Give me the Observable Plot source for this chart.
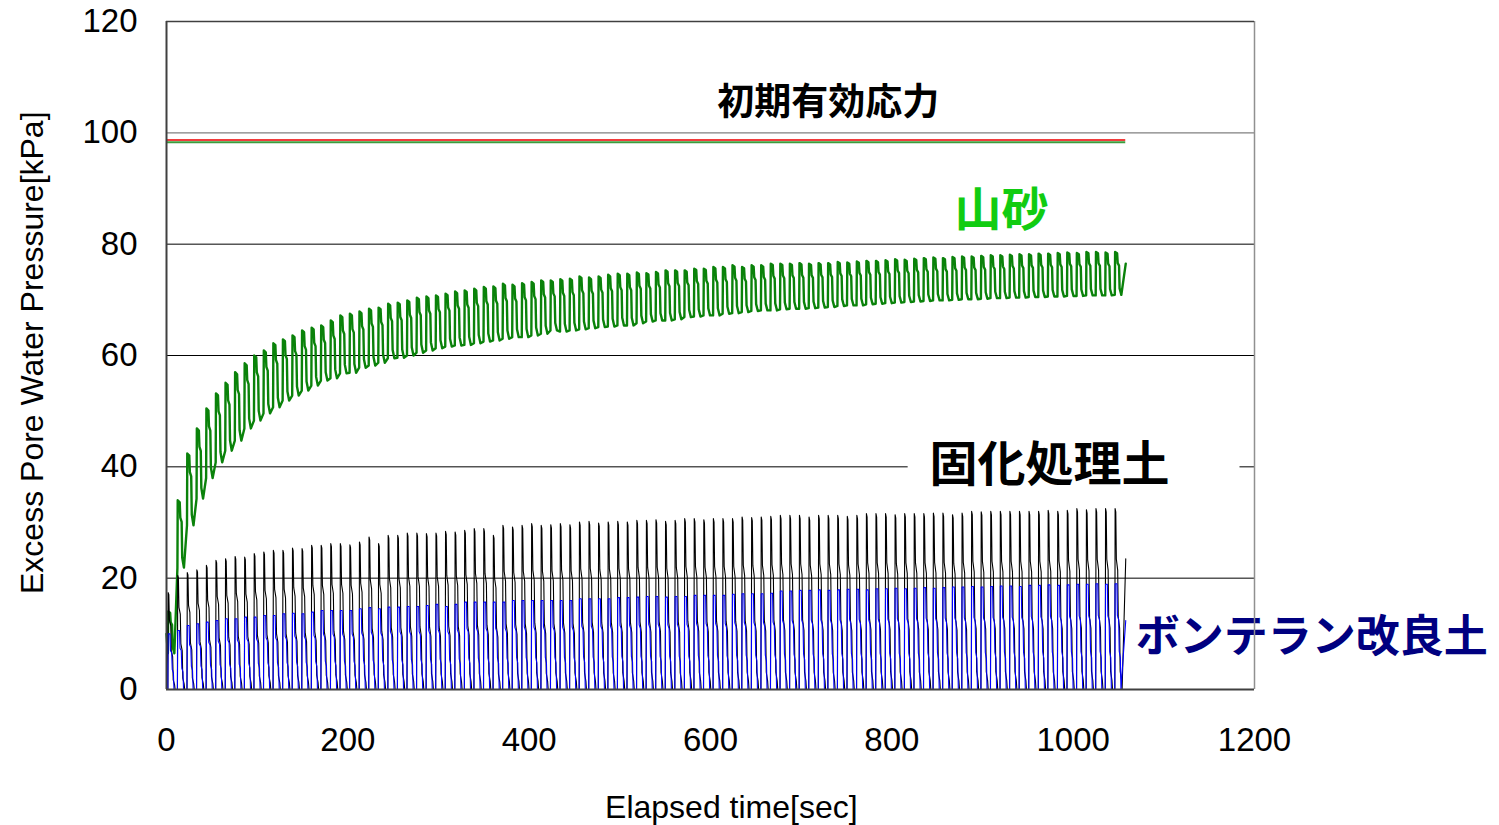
<!DOCTYPE html>
<html>
<head>
<meta charset="utf-8">
<script src="https://cdn.jsdelivr.net/npm/d3@7"></script>
<script src="https://cdn.jsdelivr.net/npm/@observablehq/plot@0.6"></script>
<style>
  html, body { margin: 0; padding: 0; background: #fff; }
</style>
</head>
<body>
<div id="chart"></div>
<script>
// ---- values ----
const xTicks = [0, 200, 400, 600, 800, 1000, 1200];
const yTicks = [0, 20, 40, 60, 80, 100, 120];
const gridValues = [20, 40, 60, 80];

const period = 10.55;      // seconds per loading cycle
const firstCycle = 1.5;    // time of the first rise
const endTime = 1058;      // last sample

// 山砂 (per-cycle peak / trough)
const sandPeak = [14, 34, 42.4, 46.9, 50.5, 53.2, 55.1, 57, 58.6, 60, 60.9, 62.2, 62.9, 63.6, 64.5, 65, 65.4, 66.3, 67.2, 67.5,
  67.9, 68.4, 68.6, 69.3, 69.5, 69.9, 70.4, 70.6, 70.8, 71.1, 71.5, 71.7, 72.0, 72.3, 72.4, 72.9, 72.7, 73.0, 73.2, 73.5,
  73.5, 73.7, 73.8, 74.2, 74.0, 74.2, 74.5, 74.7, 74.7, 74.9, 74.8, 75.0, 75.3, 75.3, 75.3, 75.6, 75.6, 75.9, 75.9, 76.2,
  75.9, 76.2, 76.2, 76.5, 76.5, 76.5, 76.6, 76.5, 76.6, 76.6, 76.8, 76.7, 76.9, 77.0, 77.0, 77.1, 77.3, 77.2, 77.4, 77.5,
  77.6, 77.5, 77.7, 77.8, 77.8, 77.9, 78.0, 78.0, 78.1, 78.2, 78.2, 78.3, 78.3, 78.4, 78.5, 78.4, 78.6, 78.6, 78.5, 78.6];
const sandTrough = [6.5, 21.9, 29.5, 34.3, 38, 40.8, 42.9, 44.7, 46.9, 48.3, 49.6, 50.7, 51.9, 52.8, 53.7, 54.6, 55.5, 55.9, 56.8, 56.9,
  57.8, 58.2, 58.7, 59.5, 59.6, 60, 60.5, 60.9, 61.3, 61.6, 61.8, 61.9, 62.2, 62.5, 62.7, 63.0, 63.3, 63.3, 63.6, 63.9,
  64.5, 64.3, 64.5, 64.7, 64.9, 65.1, 65.2, 65.4, 65.4, 65.8, 66.1, 66.3, 66.3, 66.5, 66.9, 67.0, 67.2, 67.2, 67.5, 67.6,
  67.8, 68.0, 68.1, 68.1, 68.3, 68.4, 68.4, 68.5, 68.6, 68.7, 68.9, 69.0, 69.0, 69.2, 69.3, 69.4, 69.5, 69.6, 69.7, 69.8,
  69.9, 69.9, 70.0, 70.1, 70.1, 70.2, 70.3, 70.3, 70.4, 70.4, 70.5, 70.5, 70.6, 70.6, 70.7, 70.7, 70.8, 70.8, 70.8, 70.9];
const sandStart = 10, sandEnd = 76.5;

// 固化処理土 (per-cycle peak; falls back to 0 each cycle)
const cementPeak = [17.4, 20.5, 21, 21.5, 22.3, 23.2, 23.5, 23.9, 23.8, 24.4, 24.7, 25, 25, 25.4, 25.3, 25.9, 25.9, 26.2, 26.2, 26.0,
  26.5, 27.4, 26.2, 27.7, 27.7, 28.1, 28.1, 28.0, 28.1, 28.4, 28.3, 28.6, 28.9, 28.9, 27.7, 29.5, 29.2, 29.5, 29.8, 29.5,
  29.6, 29.8, 29.6, 30.1, 30.2, 29.9, 30.1, 30.2, 30.1, 30.4, 30.4, 30.5, 30.2, 30.4, 30.7, 30.7, 30.5, 30.7, 30.7, 30.7,
  31.0, 30.9, 31.0, 31.1, 31.3, 31.3, 31.3, 31.0, 31.3, 31.3, 31.3, 31.1, 31.3, 31.6, 31.6, 31.6, 31.4, 31.6, 31.6, 31.6,
  31.7, 31.7, 31.4, 31.7, 32.0, 31.9, 32.0, 32.0, 32.0, 32.0, 32.0, 32.0, 32.2, 32.0, 32.2, 32.5, 32.3, 32.5, 32.5, 32.5];
const cementStart = 12, cementEnd = 23.5;

// ボンテラン改良土 (per-cycle peak; falls back to 0 each cycle)
const bonteraPeak = [10.0, 10.6, 11.5, 11.8, 12.1, 12.4, 12.7, 12.7, 13.0, 13.0, 13.3, 13.3, 13.6, 13.7, 13.6, 13.9, 14.2, 14.2, 14.2, 14.2,
  14.5, 14.7, 14.5, 14.8, 14.8, 14.9, 14.9, 15.1, 15.3, 14.9, 15.3, 15.7, 15.7, 15.7, 15.7, 15.7, 16.0, 16.0, 16.0, 16.0,
  16.0, 16.0, 16.0, 16.3, 16.3, 16.3, 16.3, 16.5, 16.5, 16.6, 16.7, 16.7, 16.6, 16.7, 16.7, 16.9, 16.9, 16.9, 16.9, 17.1,
  17.2, 17.2, 17.2, 17.3, 17.7, 17.7, 17.8, 17.8, 17.9, 17.8, 17.9, 18.0, 18.0, 17.9, 18.1, 18.1, 18.2, 18.1, 18.2, 18.3,
  18.2, 18.3, 18.4, 18.4, 18.5, 18.4, 18.5, 18.6, 18.6, 18.5, 18.7, 18.7, 18.8, 18.7, 18.8, 18.9, 18.9, 19.0, 18.9, 19.0];
const bonteraStart = 6, bonteraEnd = 12.4;

// wave profile inside one cycle: [fraction of period, fraction of trough→peak]
const sandProfile = [[0, 0], [0.03, 1], [0.24, 0.97], [0.3, 0.74], [0.44, 0.68], [0.5, 0.15], [0.62, 0.05], [0.68, 0.0]];
const cementProfile = [[0, 0], [0.03, 1], [0.1, 0.98], [0.16, 0.72], [0.3, 0.66], [0.36, 0.4], [0.5, 0.34], [0.56, 0.1], [0.7, 0.05], [0.76, 0]];
const bonteraProfile = [[0, 0], [0.03, 1], [0.22, 1], [0.27, 0.7], [0.4, 0.66], [0.46, 0.36], [0.58, 0.3], [0.64, 0]];

// 初期有効応力 lines
const initialStress = [{name: "red", value: 98.7}, {name: "green", value: 98.3}];

// labels
const labels = [
  {text: "初期有効応力", t: 730, v: 105.4},
  {text: "山砂", t: 921, v: 85.9},
  {text: "固化処理土", t: 974, v: 40.2},
  {text: "ボンテラン改良土", t: 1069, v: 9.2}
];

// ---- build series ----
function buildSeries(name, peaks, troughs, profile, startVal, endVal) {
  const pts = [{series: name, t: 0, v: startVal}];
  peaks.forEach((p, k) => {
    const tr = troughs ? troughs[k] : 0;
    const s = firstCycle + k * period;
    for (const [f, a] of profile) {
      const t = s + f * period;
      if (t < endTime - 1) pts.push({series: name, t, v: tr + a * (p - tr)});
    }
  });
  pts.push({series: name, t: endTime, v: endVal});
  return pts;
}
const sand = buildSeries("山砂", sandPeak, sandTrough, sandProfile, sandStart, sandEnd);
const cement = buildSeries("固化処理土", cementPeak, null, cementProfile, cementStart, cementEnd);
const bontera = buildSeries("ボンテラン改良土", bonteraPeak, null, bonteraProfile, bonteraStart, bonteraEnd);

const cjk = "'Noto Sans CJK JP', sans-serif";

const chart = Plot.plot({
  width: 1499,
  height: 825,
  marginLeft: 166,
  marginRight: 245,
  marginTop: 21,
  marginBottom: 136,
  x: {domain: [0, 1200]},
  y: {domain: [0, 120]},
  style: {fontFamily: "'Liberation Sans', Arial, sans-serif", fontSize: "32px", background: "#fff", overflow: "visible"},
  marks: [
    Plot.ruleY(gridValues, {stroke: "#000", strokeWidth: 1}),
    Plot.ruleY([100], {stroke: "#808080", strokeWidth: 1.2}),
    Plot.rect([labels[2]], {x1: () => 818, x2: () => 1184, y1: () => 35.5, y2: () => 44.5, fill: "#fff"}),
    Plot.ruleY(initialStress.filter(d => d.name === "red"), {y: "value", x1: 0, x2: endTime, stroke: "#f03c3c", strokeWidth: 2}),
    Plot.ruleY(initialStress.filter(d => d.name === "green"), {y: "value", x1: 0, x2: endTime, stroke: "#3c9c3c", strokeWidth: 2}),
    Plot.line(sand, {x: "t", y: "v", stroke: "#0a820a", strokeWidth: 2.4}),
    Plot.line(cement, {x: "t", y: "v", stroke: "#000", strokeWidth: 1.1}),
    Plot.line(bontera, {x: "t", y: "v", stroke: "#0000ff", strokeWidth: 1.1}),
    Plot.text([labels[0]], {x: "t", y: "v", text: "text", fontFamily: cjk, fontWeight: 700, fontSize: 37, fill: "#000"}),
    Plot.text([labels[1]], {x: "t", y: "v", text: "text", fontFamily: cjk, fontWeight: 700, fontSize: 47, fill: "#11cc11"}),
    Plot.text([labels[2]], {x: "t", y: "v", text: "text", fontFamily: cjk, fontWeight: 700, fontSize: 48, fill: "#000"}),
    Plot.text([labels[3]], {x: "t", y: "v", text: "text", fontFamily: cjk, fontWeight: 700, fontSize: 44, fill: "#000080", textAnchor: "start"}),
    Plot.ruleX([0], {stroke: "#404040", strokeWidth: 2}),
    Plot.ruleX([1200], {stroke: "#909090", strokeWidth: 1.5}),
    Plot.ruleY([120], {stroke: "#404040", strokeWidth: 1.5}),
    Plot.ruleY([0], {stroke: "#404040", strokeWidth: 2}),
    Plot.axisY(yTicks, {tickSize: 0, tickPadding: 29, fontSize: 33, label: null, tickFormat: d => String(d)}),
    Plot.axisX(xTicks, {tickSize: 0, tickPadding: 38, fontSize: 33, label: null, tickFormat: d => String(d)}),
    Plot.text(["Elapsed time[sec]"], {x: () => 623, frameAnchor: "bottom", dy: 118, text: d => d, fontSize: 32, textAnchor: "middle", lineAnchor: "middle"}),
    Plot.text(["Excess Pore Water Pressure[kPa]"], {y: () => 60.5, frameAnchor: "left", dx: -134, rotate: -90, text: d => d, fontSize: 32, textAnchor: "middle", lineAnchor: "middle"})
  ]
});
document.getElementById("chart").appendChild(chart);
</script>
</body>
</html>
